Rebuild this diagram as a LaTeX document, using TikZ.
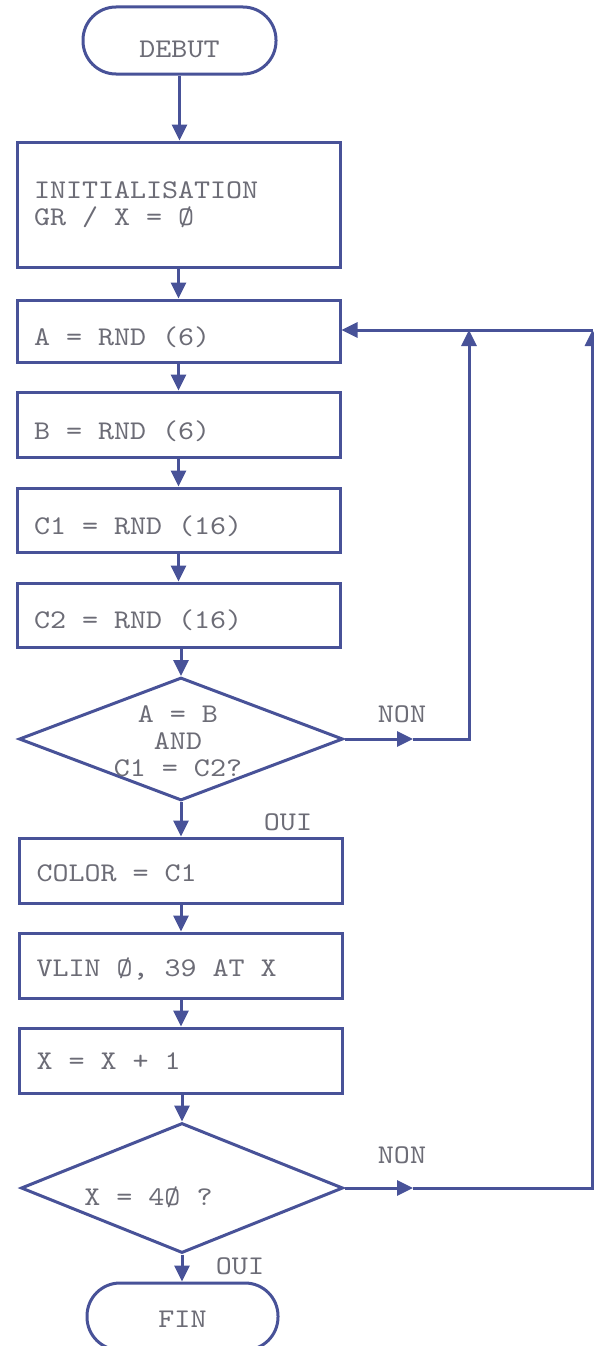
\documentclass[tikz,border=0pt]{standalone}
\usepackage{fontspec}
\setmonofont{lmmono10-regular}[Extension=.otf, FakeStretch=1.13]
\usetikzlibrary{arrows.meta,shapes.geometric,shapes.misc}
\definecolor{ink}{RGB}{72,82,152}
\definecolor{txtc}{RGB}{108,108,118}
\tikzset{
  base/.style={line width=3pt, draw=ink, line join=miter},
  tfont/.style={font=\ttfamily\fontsize{27}{27}\selectfont, text=txtc},
  procbase/.style={base, tfont, rectangle, minimum width=323pt, inner xsep=17pt, inner ysep=0pt,
     text width=289pt, align=flush left},
  procbox/.style={procbase, minimum height=64pt, text depth=0pt, text height=#1},
  procbox/.default=25pt,
  terminal/.style={base, tfont, rectangle, rounded corners=33pt, minimum width=193pt,
     minimum height=67pt, inner sep=0pt, text depth=0pt, text height=#1},
  decision/.style={base, diamond, inner sep=0pt},
  lbl/.style={tfont, inner sep=0pt, anchor=base},
  arr/.style={base, -{Triangle[length=16pt,width=15pt]}},
}
\begin{document}
\begin{tikzpicture}[x=1pt,y=-1pt]
\useasboundingbox (0,0) rectangle (594,1346);

\node[terminal=35pt] (debut) at (179.5,40.5) {DEBUT};
\node[procbase, minimum height=125pt] (init) at (178.5,204.5)
   {INITIALISATION\\GR / X = Ø};
\node[procbox=28pt, minimum height=62pt] (a) at (178.5,331) {A = RND (6)};
\node[procbox=29pt, minimum height=65pt] (b) at (178.5,424.5) {B = RND (6)};
\node[procbox=28pt] (c1) at (178.5,520) {C1 = RND (16)};
\node[procbox=27pt] (c2) at (178.5,615) {C2 = RND (16)};

\node[decision, minimum width=324pt, minimum height=123pt] (d1) at (181,739) {};
\node[tfont, align=center, inner sep=0pt] (d1t) at (178,741) {A = B\\AND\\C1 = C2?};

\node[procbox=22pt, minimum height=65pt, minimum width=322pt] (color) at (181,870.5) {COLOR = C1};
\node[procbox=22pt, minimum height=65pt, minimum width=322pt] (vlin) at (181,965.5) {VLIN Ø, 39 AT X};
\node[procbox=17pt, minimum height=65pt, minimum width=322pt] (xinc) at (181,1060.5) {X = X + 1};

\node[decision, minimum width=322pt, minimum height=130pt] (d2) at (182,1188) {};
\node[lbl] (d2t) at (148.5,1205) {X = 4Ø ?};

\node[terminal=21pt, minimum width=191pt] (fin) at (182.5,1316.5) {FIN};

\node[lbl] (non1) at (402,722) {NON};
\node[lbl] (oui1) at (288,830) {OUI};
\node[lbl] (non2) at (402,1163) {NON};
\node[lbl] (oui2) at (240,1274) {OUI};

% main flow
\draw[arr] (debut) -- (debut |- init.north);
\draw[arr] (init) -- (init |- a.north);
\draw[arr] (a) -- (a |- b.north);
\draw[arr] (b) -- (b |- c1.north);
\draw[arr] (c1) -- (c1 |- c2.north);
\draw[arr] (c2.south -| d1.north) -- (d1.north);
\draw[arr] (d1.south) -- (d1.south |- color.north);
\draw[arr] (color) -- (color |- vlin.north);
\draw[arr] (vlin) -- (vlin |- xinc.north);
\draw[arr] (xinc.south -| d2.north) -- (d2.north);
\draw[arr] (d2.south) -- (d2.south |- fin.north);

% NON loop 1
\coordinate (n1m) at (413,739);
\coordinate (n1c) at (469,739);
\coordinate (n1t) at (469,330);
\draw[arr] (d1.east) -- (n1m);
\draw[arr] (n1m) -- (n1c) -- (n1t);

% NON loop 2
\coordinate (n2m) at (413,1188);
\coordinate (n2c) at (592.5,1188);
\coordinate (n2t) at (592.5,330);
\draw[arr] (d2.east) -- (n2m);
\draw[arr] (n2m) -- (n2c) -- (n2t);
\draw[arr] (n2t) -- (n2t -| a.east);
\end{tikzpicture}
\end{document}
